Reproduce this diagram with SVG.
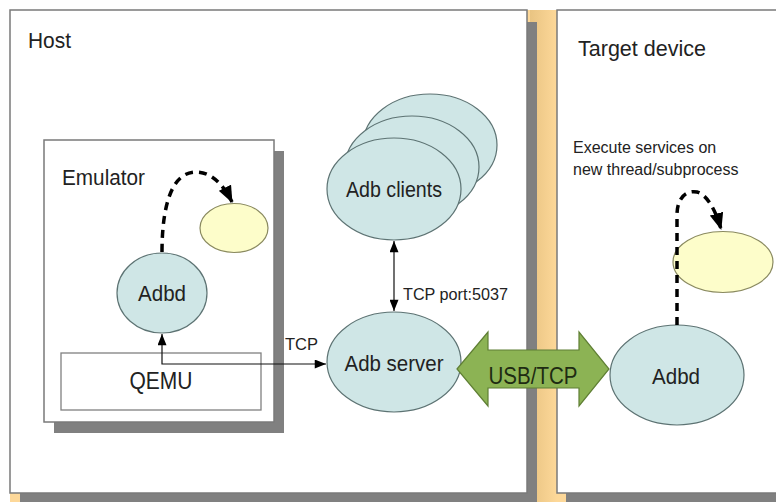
<svg xmlns="http://www.w3.org/2000/svg" width="776" height="502" viewBox="0 0 776 502">
<style>
.panel{fill:#fff;stroke:#7a7a7a;stroke-width:1.5}
.shadow{fill:#808080}
.teal{fill:#cfe6e6;stroke:#5d7373;stroke-width:1.2}
.yellow{fill:#fdfdca;stroke:#8a8a60;stroke-width:1.2}
.t{font-family:"Liberation Sans",Arial,sans-serif;fill:#222}
.line{fill:none;stroke:#111;stroke-width:1.2}
.dash{fill:none;stroke:#000;stroke-width:3.5;stroke-dasharray:8 6}
</style>
<defs>
<linearGradient id="og" x1="0" y1="0" x2="1" y2="0">
<stop offset="0" stop-color="#e9c482"/>
<stop offset="1" stop-color="#fdd899"/>
</linearGradient>
<marker id="ah" viewBox="0 0 10 8" refX="10" refY="4" markerWidth="12" markerHeight="9" markerUnits="userSpaceOnUse" orient="auto-start-reverse">
<path d="M0,0 L10,4 L0,8 z" fill="#000"/>
</marker>
<marker id="big" viewBox="0 0 16 13" refX="15" refY="6.5" markerWidth="17" markerHeight="14" markerUnits="userSpaceOnUse" orient="auto">
<path d="M0,0 L16,6.5 L0,13 z" fill="#000"/>
</marker>
</defs>
<rect x="0" y="0" width="776" height="502" fill="#fff"/>
<rect x="10" y="10" width="766" height="492" fill="#fdd899"/>
<rect x="530" y="10" width="27" height="492" fill="url(#og)"/>

<g id="host">
<rect class="shadow" x="20" y="22" width="517" height="480"/>
<rect class="panel" x="10" y="10" width="517" height="483"/>
<text class="t" x="28" y="48" font-size="22" textLength="43" lengthAdjust="spacingAndGlyphs">Host</text>
</g>

<g id="target">
<rect class="shadow" x="566" y="22" width="230" height="480"/>
<rect class="panel" x="557" y="10" width="240" height="483"/>
<text class="t" x="578" y="56" font-size="22" textLength="128" lengthAdjust="spacingAndGlyphs">Target device</text>
<text class="t" x="573" y="153" font-size="16">Execute services on</text>
<text class="t" x="573" y="175" font-size="16">new thread/subprocess</text>
</g>

<g id="emulator">
<rect class="shadow" x="54" y="151" width="230" height="282"/>
<rect class="panel" x="44" y="140" width="230" height="282"/>
<text class="t" x="62" y="185" font-size="22" textLength="83" lengthAdjust="spacingAndGlyphs">Emulator</text>
</g>

<g id="qemu">
<rect x="61" y="353" width="200" height="57" fill="#fff" stroke="#808080" stroke-width="1.3"/>
<text class="t" x="161" y="389" font-size="23" text-anchor="middle" textLength="63" lengthAdjust="spacingAndGlyphs">QEMU</text>
</g>

<g id="emu-thread">
<ellipse class="yellow" cx="234" cy="228" rx="34" ry="24.5"/>
</g>

<g id="emu-adbd">
<ellipse class="teal" cx="162" cy="293" rx="45" ry="40"/>
<text class="t" x="162" y="301" font-size="22" text-anchor="middle" textLength="48" lengthAdjust="spacingAndGlyphs">Adbd</text>
</g>

<g id="adb-clients">
<ellipse class="teal" cx="430" cy="145" rx="67" ry="51"/>
<ellipse class="teal" cx="412" cy="167" rx="67" ry="51"/>
<ellipse class="teal" cx="394" cy="189" rx="67" ry="51"/>
<text class="t" x="394" y="197" font-size="22" text-anchor="middle" textLength="96" lengthAdjust="spacingAndGlyphs">Adb clients</text>
</g>

<g id="adb-server">
<ellipse class="teal" cx="394" cy="362" rx="67" ry="50"/>
<text class="t" x="394" y="371" font-size="22" text-anchor="middle" textLength="99" lengthAdjust="spacingAndGlyphs">Adb server</text>
</g>

<g id="target-thread">
<ellipse class="yellow" cx="723" cy="262" rx="50" ry="30.5"/>
</g>

<g id="target-adbd">
<ellipse class="teal" cx="677" cy="375" rx="67" ry="50"/>
<text class="t" x="676" y="384" font-size="22" text-anchor="middle" textLength="48" lengthAdjust="spacingAndGlyphs">Adbd</text>
</g>

<g id="connectors">
<path class="line" d="M162,334 L162,364 L326,364" marker-start="url(#ah)" marker-end="url(#ah)"/>
<text class="t" x="285" y="350" font-size="16" textLength="33" lengthAdjust="spacingAndGlyphs">TCP</text>
<path class="line" d="M394,241 L394,311" marker-start="url(#ah)" marker-end="url(#ah)"/>
<text class="t" x="403" y="300" font-size="16" textLength="105" lengthAdjust="spacingAndGlyphs">TCP port:5037</text>
<path class="dash" d="M162,252 C162,205 172,172 196,172 C212,172 224,186 232,202" marker-end="url(#big)"/>
<path class="dash" d="M677,325 L677,215 C677,198 686,190 697,192 C708,195 716,212 721,229" marker-end="url(#big)"/>
<path d="M457,369 L488,332 L488,350 L579,350 L579,332 L609,369 L579,406 L579,388 L488,388 L488,406 Z" fill="#8cb354" stroke="#5f7f34" stroke-width="1.2"/>
<text x="533" y="384" font-family="Liberation Sans,Arial,sans-serif" font-size="24" fill="#1e2b12" text-anchor="middle" textLength="89" lengthAdjust="spacingAndGlyphs">USB/TCP</text>
</g>
</svg>
